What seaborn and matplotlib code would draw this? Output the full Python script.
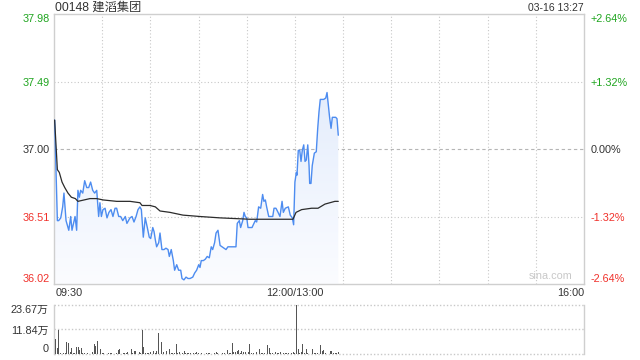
import numpy as np
import pandas as pd
import matplotlib
matplotlib.use("Agg")
import matplotlib.pyplot as plt
import seaborn as sns
from matplotlib.colors import LinearSegmentedColormap
from matplotlib.patches import Polygon

# ---------------- data ----------------
title = "00148 建滔集团"
stamp = "03-16 13:27"
prev_close = 37.00
price_ticks = [36.02, 36.51, 37.00, 37.49, 37.98]
price_labels = ["36.02", "36.51", "37.00", "37.49", "37.98"]
pct_labels = ["-2.64%", "-1.32%", "0.00%", "+1.32%", "+2.64%"]
time_ticks = [0, 150, 330]
time_labels = ["09:30", "12:00/13:00", "16:00"]
vol_ticks = [0, 11.84, 23.67]
vol_labels = ["0", "11.84万", "23.67万"]

# minutes since 09:30 (lunch break removed) and price
price_min = [0.4, 2.1, 2.9, 4.2, 5.4, 6.2, 7.5, 9.2, 10.4, 11.2, 12.5, 13.1, 14.1, 14.9, 15.8,
             16.6, 17.9, 19.1, 20.4, 21.6, 22.8, 24.1, 25.3, 26.6, 27.8, 28.6, 29.5, 30.5,
             31.8, 33.0, 34.2, 35.5, 36.7, 38.0, 39.0, 40.3, 41.5, 42.8, 44.4, 45.4, 47.3,
             48.6, 49.8, 51.1, 52.3, 53.5, 54.4, 55.6, 56.8, 58.1, 59.3, 60.2, 61.5, 62.3,
             63.1, 63.9, 65.2, 66.0, 67.2, 68.5, 69.7, 71.0, 71.8, 73.0, 74.3, 75.1, 76.4,
             77.6, 78.9, 79.7, 80.9, 82.2, 83.4, 84.7, 86.4, 87.6, 88.8, 90.1, 90.9, 91.7,
             93.0, 94.2, 95.4, 96.7, 97.9, 98.8, 100.0, 100.9, 102.1, 103.4, 104.6, 105.8,
             107.1, 108.3, 110.2, 112.1, 113.3, 114.1, 115.4, 116.2, 117.5, 118.3, 119.1,
             120.0, 120.8, 122.0, 123.3, 124.1, 125.3, 126.2, 127.4, 128.7, 129.9, 130.7,
             131.6, 132.4, 133.7, 134.9, 136.2, 137.0, 138.2, 139.5, 140.7, 142.0, 142.8,
             144.0, 145.9, 147.1, 148.4, 149.2, 150.0, 150.9, 151.3, 152.1, 153.0, 153.8,
             154.6, 155.5, 156.3, 157.1, 158.0, 158.8, 159.2, 160.0, 160.8, 162.1, 163.3,
             164.2, 165.0, 165.8, 166.7, 167.9, 169.2, 170.0, 170.8, 171.6, 172.5, 173.3,
             174.5, 175.4, 176.2, 177.0]
price_val = [37.21, 36.48, 36.48, 36.50, 36.58, 36.68, 36.48, 36.41, 36.51, 36.41, 36.48, 36.51,
             36.41, 36.70, 36.65, 36.70, 36.68, 36.77, 36.72, 36.72, 36.76, 36.70, 36.68,
             36.70, 36.51, 36.61, 36.51, 36.56, 36.57, 36.50, 36.54, 36.56, 36.51, 36.57,
             36.57, 36.51, 36.51, 36.48, 36.51, 36.46, 36.50, 36.51, 36.47, 36.51, 36.56,
             36.58, 36.56, 36.36, 36.50, 36.43, 36.36, 36.35, 36.43, 36.40, 36.34, 36.29,
             36.32, 36.39, 36.27, 36.27, 36.28, 36.27, 36.22, 36.27, 36.19, 36.12, 36.16,
             36.12, 36.12, 36.06, 36.05, 36.07, 36.06, 36.06, 36.07, 36.10, 36.12, 36.16,
             36.14, 36.19, 36.19, 36.20, 36.22, 36.21, 36.29, 36.27, 36.32, 36.39, 36.41,
             36.30, 36.29, 36.28, 36.27, 36.29, 36.29, 36.29, 36.29, 36.46, 36.48, 36.43,
             36.48, 36.54, 36.51, 36.50, 36.43, 36.43, 36.43, 36.45, 36.48, 36.47, 36.58,
             36.57, 36.67, 36.62, 36.63, 36.58, 36.51, 36.51, 36.51, 36.57, 36.57, 36.54,
             36.51, 36.62, 36.54, 36.57, 36.58, 36.52, 36.50, 36.45, 36.76, 36.83, 36.81,
             36.99, 36.99, 36.91, 36.99, 37.03, 36.91, 36.92, 37.03, 36.88, 36.75, 36.75,
             36.88, 36.97, 36.98, 37.15, 37.27, 37.36, 37.36, 37.36, 37.37, 37.41, 37.32,
             37.23, 37.15, 37.23, 37.23, 37.23, 37.22, 37.10]

avg_min = [0.4, 2.1, 3.3, 5.0, 6.7, 8.7, 10.8, 13.3, 14.9, 22.4, 26.6, 30.7, 39.0, 47.3, 53.5,
           54.8, 59.8, 63.1, 66.0, 72.2, 80.3, 90.9, 103.4, 122.0, 148.8, 150.7, 154.2,
           160.4, 164.4, 168.7, 174.9, 177.0]
avg_val = [37.21, 36.85, 36.83, 36.76, 36.72, 36.68, 36.65, 36.64, 36.62, 36.64, 36.64, 36.63,
           36.62, 36.62, 36.61, 36.59, 36.59, 36.58, 36.55, 36.54, 36.52, 36.51, 36.50,
           36.49, 36.49, 36.54, 36.56, 36.57, 36.57, 36.60, 36.62, 36.62]

# volume (万) per minute
vol_min = [1, 2, 3, 4, 5, 6, 7, 8, 9, 10, 11, 12, 13, 14, 15, 16, 17, 18, 19, 21, 22, 24, 25, 26,
           27, 28, 29, 30, 31, 33, 34, 35, 36, 38, 39, 40, 41, 43, 44, 45, 46, 48, 49, 50, 51,
           53, 54, 55, 56, 57, 58, 59, 60, 62, 63, 64, 65, 66, 67, 68, 70, 71, 72, 73, 74, 75,
           76, 77, 78, 80, 81, 82, 83, 84, 85, 87, 88, 89, 90, 91, 92, 94, 95, 96, 97, 99, 100,
           101, 102, 104, 105, 106, 108, 109, 110, 111, 112, 113, 114, 115, 116, 117, 118, 119,
           121, 122, 123, 124, 126, 127, 128, 129, 130, 131, 133, 134, 135, 136, 137, 138, 139,
           140, 141, 143, 144, 145, 146, 148, 149, 150, 151, 152, 153, 154, 155, 156, 157, 158,
           160, 161, 162, 163, 164, 166, 167, 168, 169, 170, 172, 173, 174, 175, 176, 177]
vol_val = [7.1, 2.7, 11.6, 0.3, 4.8, 0.5, 0.5, 5.8, 5.5, 1.1, 2.7, 0.5, 0.5, 3.5, 3.5, 1.9, 2.7,
           0.3, 0.3, 0.5, 0.1, 1.0, 4.8, 3.9, 6.5, 10.6, 2.6, 0.5, 0.3, 1.0, 0.3, 0.3, 0.3, 1.0,
           0.6, 1.9, 2.3, 0.3, 0.3, 0.3, 0.8, 2.3, 0.3, 1.6, 1.3, 0.8, 0.3, 11.6, 3.2, 0.6, 0.3,
           0.6, 1.1, 1.6, 0.3, 1.6, 10.0, 1.6, 5.8, 1.1, 1.6, 1.9, 2.3, 0.3, 0.3, 0.3, 4.8, 0.3,
           1.0, 0.3, 1.3, 0.3, 0.6, 0.3, 0.3, 0.6, 0.3, 1.0, 0.3, 0.1, 0.3, 0.6, 0.3, 0.6, 0.6,
           0.3, 0.6, 1.0, 0.3, 1.5, 0.6, 0.3, 1.9, 0.6, 0.3, 5.5, 1.0, 1.1, 1.6, 1.9, 0.3, 1.5,
           1.0, 1.0, 1.1, 4.8, 0.6, 0.3, 1.1, 3.9, 2.3, 0.6, 0.3, 0.6, 4.4, 2.7, 0.3, 0.6, 0.3,
           1.0, 0.6, 0.6, 1.0, 0.3, 0.3, 0.3, 0.6, 0.3, 1.0, 0.6, 23.67, 2.3, 0.3, 1.1, 4.8,
           0.6, 2.3, 0.3, 6.8, 2.3, 0.6, 0.3, 0.6, 4.4, 1.3, 1.9, 0.3, 0.6, 1.3, 1.6, 0.3, 0.6,
           0.3, 1.0]

price_df = pd.DataFrame({"minute": price_min, "price": price_val})
avg_df = pd.DataFrame({"minute": avg_min, "price": avg_val})

# ---------------- style ----------------
sns.set_style("white")
plt.rcParams["font.family"] = ["Liberation Sans", "Noto Sans CJK SC", "DejaVu Sans"]

GREEN = "#1fa51f"
RED = "#f0302a"
DARK = "#333333"
GRID = "#c8c8c8"
FRAME = "#cfcfcf"
BLUE = "#4d8cf0"
FS = 7.8

W, H = 640, 360
fig = plt.figure(figsize=(W / 100, H / 100), dpi=100)
ax = fig.add_axes([54 / W, 1 - 284 / H, 530 / W, 270 / H])
axv = fig.add_axes([54 / W, 1 - 354 / H, 530 / W, 49 / H])

ymin, ymax = price_ticks[0], price_ticks[-1]
ax.set_xlim(0, 330)
ax.set_ylim(ymin, ymax)

# gradient fill under the price line
cmap = LinearSegmentedColormap.from_list("g", ["#fbfcff", "#dbe7fb"])
grad = np.linspace(0, 1, 256).reshape(-1, 1)
im = ax.imshow(grad, cmap=cmap, origin="lower", aspect="auto",
               extent=[0, 330, ymin, ymax], zorder=1)
poly_pts = [(price_min[0], ymin)] + list(zip(price_min, price_val)) + [(price_min[-1], ymin)]
poly = Polygon(poly_pts, closed=True, transform=ax.transData, facecolor="none", edgecolor="none")
ax.add_patch(poly)
im.set_clip_path(poly)

# grid
for t in range(30, 330, 30):
    ax.axvline(t, color=GRID, lw=0.8, ls=(0, (1, 2)), zorder=0.5)
for yv in price_ticks[1:-1]:
    if abs(yv - prev_close) < 1e-9:
        ax.axhline(yv, color="#b5b5b5", lw=0.8, ls=(0, (3, 2.5)), zorder=0.5)
    else:
        ax.axhline(yv, color=GRID, lw=0.8, ls=(0, (1, 2)), zorder=0.5)

sns.lineplot(data=price_df, x="minute", y="price", ax=ax, color=BLUE, lw=1.0,
             zorder=3, estimator=None, sort=False)
sns.lineplot(data=avg_df, x="minute", y="price", ax=ax, color="#2b2b2b", lw=0.9,
             zorder=4, estimator=None, sort=False)

ax.set_xlabel("")
ax.set_ylabel("")
ax.set_xticks([])
ax.set_yticks(price_ticks)
ax.set_yticklabels(price_labels)
ax.tick_params(axis="y", length=0, pad=3, labelsize=FS)
lab_colors = [RED, RED, DARK, GREEN, GREEN]
for lab, c in zip(ax.get_yticklabels(), lab_colors):
    lab.set_color(c)
ax.get_yticklabels()[0].set_va("bottom")
ax.get_yticklabels()[-1].set_va("top")
for s in ax.spines.values():
    s.set_color(FRAME)
    s.set_linewidth(1.0)

ax2 = ax.twinx()
ax2.set_ylim(ymin, ymax)
ax2.set_yticks(price_ticks)
ax2.set_yticklabels(pct_labels)
ax2.tick_params(axis="y", length=0, pad=5, labelsize=FS)
for lab, c in zip(ax2.get_yticklabels(), lab_colors):
    lab.set_color(c)
ax2.get_yticklabels()[0].set_va("bottom")
ax2.get_yticklabels()[-1].set_va("top")
for s in ax2.spines.values():
    s.set_visible(False)

# time labels
xt = ax.get_xaxis_transform()
ax.text(time_ticks[0] + 0.8, -0.016, time_labels[0], transform=xt,
        ha="left", va="top", fontsize=FS, color=DARK)
ax.text(time_ticks[1], -0.016, time_labels[1], transform=xt,
        ha="center", va="top", fontsize=FS, color=DARK)
ax.text(time_ticks[2], -0.016, time_labels[2], transform=xt,
        ha="right", va="top", fontsize=FS, color=DARK)

# watermark
ax.text(0.978, 0.012, "sina.com", transform=ax.transAxes, ha="right", va="bottom",
        fontsize=FS, color="#c8c8c8")

# title & timestamp
fig.text(55 / W, 1 - 8 / H, title, ha="left", va="center", fontsize=8.8, color=DARK)
fig.text(584 / W, 1 - 8 / H, stamp, ha="right", va="center", fontsize=7.5, color=DARK)

# ---------------- volume ----------------
axv.bar(vol_min, vol_val, width=0.55, color="#555555", zorder=3, linewidth=0)
axv.set_xlim(0, 330)
axv.set_ylim(0, vol_ticks[-1])
for yv in vol_ticks:
    axv.axhline(yv, color=GRID, lw=1.0, ls=(0, (1, 1.5)), zorder=1, clip_on=False)
axv.set_xticks([])
axv.set_yticks(vol_ticks)
axv.set_yticklabels(vol_labels)
axv.tick_params(axis="y", length=0, pad=4, labelsize=FS, labelcolor=DARK)
axv.get_yticklabels()[0].set_va("bottom")
axv.get_yticklabels()[-1].set_va("top")
for side in ["top", "bottom"]:
    axv.spines[side].set_visible(False)
for side in ["left", "right"]:
    axv.spines[side].set_color(FRAME)
    axv.spines[side].set_linewidth(1.0)

fig.savefig("out.png", dpi=100)
